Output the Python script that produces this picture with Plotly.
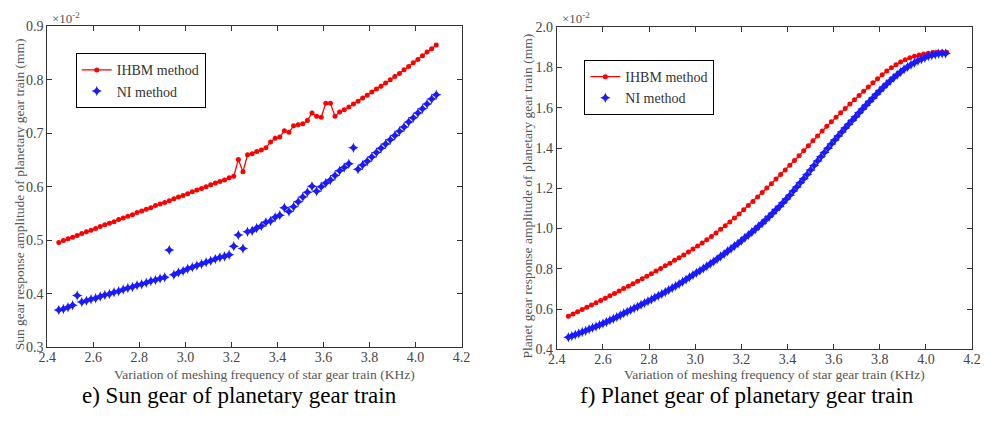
import numpy as np
import plotly.graph_objects as go

# ---------------- data ----------------
sun_freq_start, sun_freq_step = 2.45, 0.02
sun_ihbm = [0.496, 0.500, 0.503, 0.506, 0.509, 0.513, 0.516, 0.519, 0.522, 0.526,
            0.529, 0.532, 0.535, 0.539, 0.542, 0.545, 0.548, 0.552, 0.555, 0.558,
            0.561, 0.565, 0.568, 0.571, 0.574, 0.578, 0.581, 0.584, 0.587, 0.591,
            0.594, 0.597, 0.600, 0.604, 0.607, 0.610, 0.613, 0.617, 0.620,
            0.651, 0.628, 0.660, 0.662, 0.666, 0.669, 0.673, 0.684, 0.691, 0.693,
            0.705, 0.702, 0.714, 0.716, 0.718, 0.724, 0.738, 0.732, 0.730, 0.756,
            0.756, 0.732, 0.740,
            0.744, 0.749, 0.755, 0.760, 0.766, 0.771, 0.777, 0.783, 0.788, 0.794,
            0.800, 0.806, 0.812, 0.819, 0.825, 0.832, 0.838, 0.845, 0.852, 0.858, 0.865]
sun_ni = [0.370, 0.372, 0.375, 0.379, 0.397, 0.385,
          0.387, 0.390, 0.392, 0.395, 0.398, 0.400, 0.403, 0.405, 0.408, 0.411,
          0.413, 0.416, 0.418, 0.421, 0.424, 0.426, 0.429, 0.431,
          0.482,
          0.436, 0.440, 0.443, 0.447, 0.450, 0.453, 0.456, 0.459, 0.462, 0.465,
          0.468, 0.470, 0.473,
          0.489, 0.510, 0.485, 0.516, 0.518, 0.523, 0.527, 0.534, 0.536, 0.543,
          0.547, 0.561, 0.554, 0.563, 0.572, 0.581, 0.590, 0.601,
          0.592, 0.600, 0.607, 0.613, 0.621, 0.630, 0.636, 0.643,
          0.673,
          0.633, 0.641, 0.648, 0.656, 0.664, 0.672, 0.680, 0.688, 0.696, 0.704,
          0.712, 0.721, 0.729, 0.738, 0.746, 0.755, 0.764, 0.772]

planet_ihbm_start, planet_ihbm_step = 2.45, 0.02
planet_ihbm = [0.565, 0.576, 0.587, 0.598, 0.609, 0.620, 0.631, 0.643, 0.654, 0.666,
               0.678, 0.690, 0.702, 0.714, 0.726, 0.738, 0.751, 0.763, 0.776, 0.789,
               0.802, 0.815, 0.828, 0.842, 0.855, 0.869, 0.883, 0.898, 0.913, 0.928,
               0.944, 0.961, 0.978, 0.996, 1.014, 1.033, 1.052, 1.072, 1.093, 1.114,
               1.135, 1.157, 1.179, 1.201, 1.223, 1.246, 1.268, 1.291, 1.314, 1.338,
               1.362, 1.387, 1.411, 1.436, 1.460, 1.485, 1.508, 1.530, 1.553, 1.575,
               1.597, 1.619, 1.640, 1.661, 1.682, 1.703, 1.724, 1.744, 1.764, 1.783,
               1.799, 1.814, 1.827, 1.838, 1.848, 1.856, 1.862, 1.867, 1.871, 1.874,
               1.876, 1.877, 1.876]
planet_ni_start, planet_ni_step = 2.45, 0.015
planet_ni = [0.460, 0.466, 0.473, 0.479, 0.486, 0.493, 0.500, 0.507, 0.514, 0.521,
             0.529, 0.536, 0.544, 0.552, 0.561, 0.570, 0.579, 0.587, 0.595, 0.604,
             0.612, 0.621, 0.630, 0.639, 0.648, 0.657, 0.666, 0.675, 0.685, 0.695,
             0.705, 0.715, 0.725, 0.736, 0.747, 0.758, 0.769, 0.780, 0.791, 0.802,
             0.813, 0.825, 0.837, 0.849, 0.861, 0.874, 0.887, 0.900, 0.913, 0.926,
             0.940, 0.954, 0.968, 0.982, 0.997, 1.012, 1.027, 1.043, 1.059, 1.076,
             1.093, 1.110, 1.128, 1.147, 1.166, 1.186, 1.206, 1.227, 1.248, 1.269,
             1.291, 1.313, 1.335, 1.357, 1.378, 1.399, 1.420, 1.440, 1.460, 1.480,
             1.499, 1.518, 1.537, 1.556, 1.575, 1.594, 1.613, 1.631, 1.649, 1.667,
             1.685, 1.702, 1.718, 1.734, 1.749, 1.764, 1.778, 1.791, 1.803, 1.814,
             1.824, 1.833, 1.841, 1.849, 1.856, 1.861, 1.865, 1.868, 1.869, 1.869]

x_ticks = [2.4, 2.6, 2.8, 3.0, 3.2, 3.4, 3.6, 3.8, 4.0, 4.2]
sun_y_ticks = [0.3, 0.4, 0.5, 0.6, 0.7, 0.8, 0.9]
planet_y_ticks = [0.4, 0.6, 0.8, 1.0, 1.2, 1.4, 1.6, 1.8, 2.0]


def grid(start, step, n):
    return np.round(start + step * np.arange(n), 4)


W, H = 988, 421
FONT = "Liberation Serif"
TICK_FONT = dict(family=FONT, size=14, color="#444444")

fig = go.Figure()

ihbm_style = dict(mode="lines+markers", line=dict(color="#ff0000", width=1.3),
                  marker=dict(symbol="circle", size=5, color="#ff0000"))
ni_style = dict(mode="markers",
                marker=dict(symbol="star-diamond", size=7.5, color="#1a1aff",
                            line=dict(width=0)))

fig.add_trace(go.Scatter(x=grid(sun_freq_start, sun_freq_step, len(sun_ihbm)), y=sun_ihbm,
                         name="IHBM method", xaxis="x", yaxis="y", legend="legend", **ihbm_style))
fig.add_trace(go.Scatter(x=grid(sun_freq_start, sun_freq_step, len(sun_ni)), y=sun_ni,
                         name="NI method", xaxis="x", yaxis="y", legend="legend", **ni_style))
fig.add_trace(go.Scatter(x=grid(planet_ihbm_start, planet_ihbm_step, len(planet_ihbm)), y=planet_ihbm,
                         name="IHBM method", xaxis="x2", yaxis="y2", legend="legend2", **ihbm_style))
fig.add_trace(go.Scatter(x=grid(planet_ni_start, planet_ni_step, len(planet_ni)), y=planet_ni,
                         name="NI method", xaxis="x2", yaxis="y2", legend="legend2", **ni_style))


def px_x(p):
    return p / W


def px_y(p):
    return 1 - p / H


axis_common = dict(showgrid=False, zeroline=False, showline=True, linecolor="#333333",
                   linewidth=1.2, mirror="ticks", ticks="inside", ticklen=5,
                   tickcolor="#333333", tickfont=TICK_FONT, tickformat=".1f")

L = (39, 461, 20, 353)
R = (558, 981, 21, 355)

legend_common = dict(xanchor="left", yanchor="top", bgcolor="white",
                     bordercolor="#000000", borderwidth=1,
                     font=dict(family=FONT, size=14, color="#333333"),
                     itemwidth=30, tracegroupgap=0)

fig.update_layout(
    width=W, height=H, margin=dict(l=0, r=0, t=0, b=0),
    paper_bgcolor="white", plot_bgcolor="white",
    showlegend=True,
    xaxis=dict(domain=[px_x(L[0]), px_x(L[1])], range=[2.4, 4.2], tickvals=x_ticks,
               anchor="y", ticklabelstandoff=-3, **axis_common),
    yaxis=dict(domain=[px_y(L[3]), px_y(L[2])], range=[0.3, 0.9], tickvals=sun_y_ticks,
               anchor="x", **axis_common),
    xaxis2=dict(domain=[px_x(R[0]), px_x(R[1])], range=[2.4, 4.2], tickvals=x_ticks,
                anchor="y2", ticklabelstandoff=-3, **axis_common),
    yaxis2=dict(domain=[px_y(R[3]), px_y(R[2])], range=[0.4, 2.0], tickvals=planet_y_ticks,
                anchor="x2", **axis_common),
    legend=dict(x=px_x(68), y=px_y(48), **legend_common),
    legend2=dict(x=px_x(586), y=px_y(55), **legend_common),
)

ann = []
xt = "Variation of meshing frequency of star gear train (KHz)"
for cx in [(L[0] + L[1]) / 2, (R[0] + R[1]) / 2]:
    ann.append(dict(x=px_x(cx + 10), y=px_y(381), xref="paper", yref="paper", text=xt,
                    showarrow=False, font=dict(family=FONT, size=13.5, color="#555555"),
                    xanchor="center", yanchor="middle"))
ann.append(dict(x=px_x(11), y=px_y((L[2] + L[3]) / 2 + 8), xref="paper", yref="paper",
                text="Sun gear response amplitude of planetary gear train (mm)", textangle=-90,
                showarrow=False, font=dict(family=FONT, size=13.5, color="#555555"),
                xanchor="center", yanchor="middle"))
ann.append(dict(x=px_x(528), y=px_y((R[2] + R[3]) / 2 + 8), xref="paper", yref="paper",
                text="Planet gear response amplitude of planetary gear train (mm)", textangle=-90,
                showarrow=False, font=dict(family=FONT, size=13.5, color="#555555"),
                xanchor="center", yanchor="middle"))
for x0 in [L[0], R[0]]:
    ann.append(dict(x=px_x(x0 + 3), y=px_y(11), xref="paper", yref="paper",
                    text="×10<sup>-2</sup>", showarrow=False,
                    font=dict(family=FONT, size=13, color="#555555"),
                    xanchor="left", yanchor="middle"))
ann.append(dict(x=px_x(235), y=px_y(403), xref="paper", yref="paper",
                text="e) Sun gear of planetary gear train", showarrow=False,
                font=dict(family=FONT, size=23, color="#000000"),
                xanchor="center", yanchor="middle"))
ann.append(dict(x=px_x(752), y=px_y(403), xref="paper", yref="paper",
                text="f) Planet gear of planetary gear train", showarrow=False,
                font=dict(family=FONT, size=23, color="#000000"),
                xanchor="center", yanchor="middle"))
fig.update_layout(annotations=ann)

fig.write_html("out.html")
